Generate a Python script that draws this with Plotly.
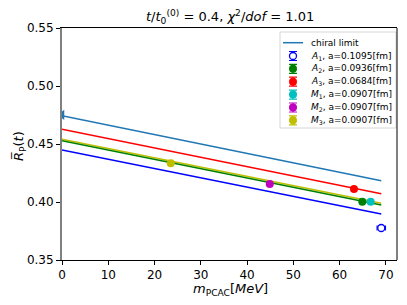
import plotly.graph_objects as go

# fit lines: value at m=0 and m=69
line_x = [0, 69]
line_chiral = [0.4744, 0.4184]
line_A1 = [0.4448, 0.3897]
line_A3 = [0.4627, 0.4072]
line_M = [0.4540, 0.3989]
line_A2 = [0.4529, 0.3974]

# data points
pt_labels = ["<i>A</i><sub>1</sub>, a=0.1095[fm]", "<i>A</i><sub>2</sub>, a=0.0936[fm]",
             "<i>A</i><sub>3</sub>, a=0.0684[fm]", "<i>M</i><sub>1</sub>, a=0.0907[fm]",
             "<i>M</i><sub>2</sub>, a=0.0907[fm]", "<i>M</i><sub>3</sub>, a=0.0907[fm]"]
pt_x = [69.0, 64.9, 63.1, 66.7, 44.9, 23.5]
pt_y = [0.3776, 0.4003, 0.4112, 0.4003, 0.4155, 0.4334]
pt_xerr = [0.9, 0.3, 0.3, 0.3, 0.3, 0.3]
pt_yerr = [0.0008, 0.0008, 0.0008, 0.0008, 0.0008, 0.0008]
pt_colors = ["blue", "green", "red", "#00bfbf", "#bf00bf", "#bfbf00"]

chiral_x = [0]
chiral_y = [0.4751]
chiral_yerr = [0.0015]

# plot-area geometry in pixels (for the overlay legend axis)
L, R, T, B = 62, 397, 28, 260

fig = go.Figure()

fig.add_trace(go.Scatter(x=line_x, y=line_chiral, mode="lines", showlegend=False,
                         line=dict(color="#1f77b4", width=1.5)))
fig.add_trace(go.Scatter(x=chiral_x, y=chiral_y, mode="markers", showlegend=False,
                         marker=dict(color="#1f77b4", size=9, symbol="triangle-left"),
                         error_y=dict(type="data", array=chiral_yerr, color="#1f77b4", width=0, thickness=1.5),
                         cliponaxis=True))

for ys, c in [(line_A1, "blue"), (line_A3, "red"), (line_M, "#bfbf00"), (line_A2, "green")]:
    fig.add_trace(go.Scatter(x=line_x, y=ys, mode="lines", showlegend=False,
                             line=dict(color=c, width=1.5)))

for i in range(len(pt_x)):
    open_marker = (i == 0)
    fig.add_trace(go.Scatter(
        x=[pt_x[i]], y=[pt_y[i]], mode="markers", showlegend=False,
        marker=dict(color="white" if open_marker else pt_colors[i], size=7 if open_marker else 8,
                    symbol="circle",
                    line=dict(color=pt_colors[i], width=1.3 if open_marker else 0)),
        error_x=dict(type="data", array=[pt_xerr[i]], color=pt_colors[i], width=2.5, thickness=1.2),
        error_y=dict(type="data", array=[pt_yerr[i]], color=pt_colors[i], width=2.5, thickness=1.2),
    ))

# ---- manual legend on a pixel-coordinate overlay axis ----
leg_y = [56, 68.8, 81.7, 94.6, 107.5, 120.3]
leg_chiral_y = 42.7
leg_glyph_x = 293
leg_text_x = 309

fig.add_shape(type="rect", xref="x2", yref="y2", x0=280, x1=396, y0=32, y1=128,
              line=dict(color="#d6d6d6", width=1), fillcolor="white", layer="below")
fig.add_shape(type="line", xref="x2", yref="y2", x0=283, x1=303, y0=leg_chiral_y, y1=leg_chiral_y,
              line=dict(color="#1f77b4", width=1.5))
fig.add_annotation(xref="x2", yref="y2", x=leg_text_x, y=leg_chiral_y, text="chiral limit",
                   showarrow=False, xanchor="left", yanchor="middle", font=dict(size=9))
for i in range(len(pt_labels)):
    open_marker = (i == 0)
    fig.add_trace(go.Scatter(
        x=[leg_glyph_x], y=[leg_y[i]], xaxis="x2", yaxis="y2", mode="markers", showlegend=False,
        marker=dict(color="white" if open_marker else pt_colors[i], size=7 if open_marker else 8,
                    line=dict(color=pt_colors[i], width=1.3 if open_marker else 0)),
        error_y=dict(type="constant", value=4.5, color=pt_colors[i], width=4, thickness=1.2),
        cliponaxis=False, hoverinfo="skip"))
    fig.add_annotation(xref="x2", yref="y2", x=leg_text_x, y=leg_y[i], text=pt_labels[i],
                       showarrow=False, xanchor="left", yanchor="middle", font=dict(size=9))

fig.add_shape(type="line", xref="x domain", yref="y domain", x0=1, x1=1, y0=0, y1=1,
              line=dict(color="black", width=1))

# titles
fig.add_annotation(xref="paper", yref="paper", x=(230 - L) / (R - L), y=(B - 17) / (B - T),
                   text="<i>t</i>/<i>t</i><sub>0</sub><sup>(0)</sup> = 0.4, <i>χ</i><sup>2</sup>/<i>dof</i> = 1.01",
                   showarrow=False, xanchor="center", yanchor="middle", font=dict(size=13))
fig.add_annotation(xref="paper", yref="paper", x=(230 - L) / (R - L), y=(B - 289) / (B - T),
                   text="<i>m</i><sub>PCAC</sub>[<i>MeV</i>]",
                   showarrow=False, xanchor="center", yanchor="middle", font=dict(size=13))
fig.add_annotation(xref="paper", yref="paper", x=(19 - L) / (R - L), y=(B - 146) / (B - T),
                   text="<i>R̅</i><sub>P</sub>(<i>t</i>)", textangle=-90,
                   showarrow=False, xanchor="center", yanchor="middle", font=dict(size=13))

fig.update_layout(
    width=407, height=305,
    margin=dict(l=L, r=407 - R, t=T, b=305 - B, autoexpand=False),
    paper_bgcolor="white", plot_bgcolor="white",
    font=dict(family="DejaVu Sans", size=12, color="black"),
    showlegend=False,
    xaxis=dict(range=[0, 72.4], tickvals=[0, 10, 20, 30, 40, 50, 60, 70], automargin=False,
               showgrid=False, zeroline=False, showline=True, linecolor="black", linewidth=1,
               mirror=True, ticks="outside", ticklen=4, tickcolor="black"),
    yaxis=dict(range=[0.35, 0.55], tickvals=[0.35, 0.40, 0.45, 0.50, 0.55], automargin=False,
               ticktext=["0.35", "0.40", "0.45", "0.50", "0.55"],
               showgrid=False, zeroline=False, showline=True, linecolor="#808080", linewidth=2,
               ticks="outside", ticklen=4, tickcolor="black"),
    xaxis2=dict(range=[L, R], overlaying="x", visible=False, anchor="y2"),
    yaxis2=dict(range=[B, T], overlaying="y", visible=False, anchor="x2"),
)

fig.write_html("out.html", config={"displayModeBar": False},
               post_script="document.body.style.margin='0';document.body.style.overflow='hidden';")
